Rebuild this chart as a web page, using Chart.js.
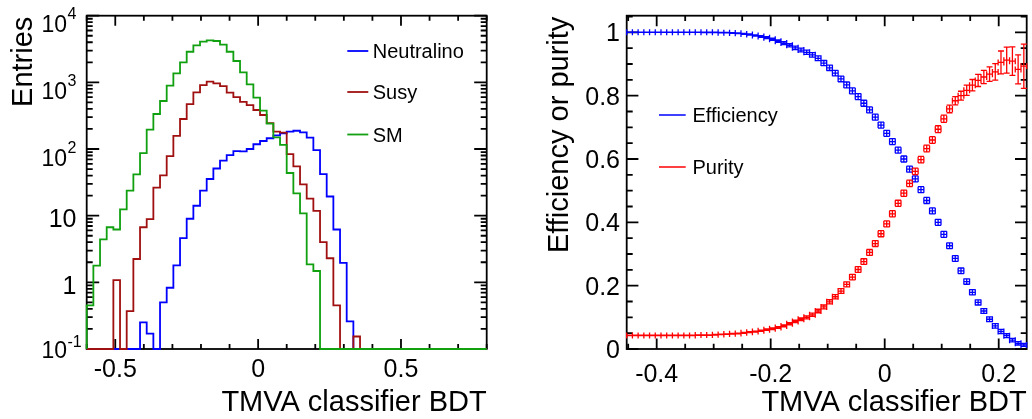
<!DOCTYPE html>
<html>
<head>
<meta charset="utf-8">
<script src="https://cdn.jsdelivr.net/npm/chart.js@4.4.1/dist/chart.umd.min.js"></script>
<style>
  body { margin: 0; background: #fff; }
  #wrap { position: relative; width: 1032px; height: 419px; }
  canvas { position: absolute; top: 0; }
</style>
</head>
<body>
<div id="wrap">
  <canvas id="hist" width="516" height="419" style="left:0"></canvas>
  <canvas id="effpur" width="516" height="419" style="left:516px"></canvas>
</div>
<script>
// BDT output histograms, 60 bins between histRange[0] and histRange[1]
const histRange = [-0.6, 0.8];
const neutralino = [
  0, 0, 0, 0, 0, 0, 0, 0, 0.25, 0.17,
  0, 0.5, 0.83, 1.8, 4.6, 9.0, 14.1, 23.7, 35.5, 51,
  67, 81, 93, 92, 100, 118, 132, 145, 160, 172,
  183, 188, 178, 148, 96, 42, 19.4, 6.2, 1.96, 0.26,
  0, 0, 0, 0, 0, 0, 0, 0, 0, 0,
  0, 0, 0, 0, 0, 0, 0, 0, 0, 0
];
const susy = [
  0, 0, 0, 0, 1.08, 0, 0.37, 2.24, 6.7, 8.9,
  26.3, 40.3, 78.5, 157, 282, 473, 708, 912, 1023, 966,
  881, 700, 600, 510, 455, 385, 324, 244, 182, 176,
  84, 55, 29.5, 18, 11.8, 4.0, 2.3, 0.45, 0, 0,
  0.154, 0, 0, 0, 0, 0, 0, 0, 0, 0,
  0, 0, 0, 0, 0, 0, 0, 0, 0, 0
];
const sm = [
  0.45, 1.78, 4.4, 6.7, 6.2, 12.4, 23.7, 41.7, 87, 195,
  335, 525, 891, 1365, 2000, 2880, 3590, 4070, 4270, 4170,
  3670, 2880, 2090, 1413, 933, 589, 376, 240, 150, 115,
  43.7, 21.6, 10.8, 1.86, 1.48, 0, 0, 0, 0, 0,
  0, 0, 0, 0, 0, 0, 0, 0, 0, 0,
  0, 0, 0, 0, 0, 0, 0, 0, 0, 0
];
const histLabels = ['Neutralino', 'Susy', 'SM'];
const histYRange = [0.1, 10000];
const histXTicks = [-0.5, 0, 0.5];
const histXTickLabels = ['-0.5', '0', '0.5'];
const histYTicks = [0.1, 1, 10, 100, 1000, 10000];
const histYTickLabels = ['10^-1', '1', '10', '10^2', '10^3', '10^4'];

// efficiency and purity versus cut value, 70 bins between cutRange[0] and cutRange[1]
const cutRange = [-0.4526, 0.2491];
const efficiency = [
  1, 1, 1, 1, 1, 1, 1, 1, 1, 1,
  1, 1, 1, 1, 1, 1, 0.999, 0.999, 0.998, 0.997,
  0.995, 0.993, 0.990, 0.987, 0.983, 0.978, 0.972, 0.966, 0.959, 0.951,
  0.944, 0.937, 0.929, 0.918, 0.903, 0.888, 0.871, 0.853, 0.834, 0.815,
  0.797, 0.776, 0.755, 0.732, 0.707, 0.681, 0.655, 0.628, 0.600, 0.568,
  0.537, 0.503, 0.469, 0.436, 0.400, 0.362, 0.326, 0.286, 0.247, 0.213,
  0.179, 0.147, 0.120, 0.094, 0.073, 0.055, 0.042, 0.028, 0.018, 0.013
];
const efficiencyErr = [
  0.0003, 0.0003, 0.0003, 0.0003, 0.0003, 0.0003, 0.0003, 0.0003, 0.0003, 0.0003,
  0.0003, 0.0004, 0.0004, 0.0005, 0.0005, 0.0006, 0.0007, 0.0008, 0.001, 0.0012,
  0.0015, 0.0018, 0.0022, 0.0026, 0.003, 0.0035, 0.004, 0.0045, 0.005, 0.0055,
  0.006, 0.0065, 0.007, 0.0075, 0.008, 0.0085, 0.0088, 0.009, 0.0092, 0.0094,
  0.0095, 0.0095, 0.0095, 0.0095, 0.0095, 0.0095, 0.0095, 0.0095, 0.0095, 0.0095,
  0.0095, 0.0095, 0.0095, 0.0095, 0.0094, 0.0093, 0.0092, 0.009, 0.0088, 0.0086,
  0.0083, 0.008, 0.0077, 0.0073, 0.007, 0.0066, 0.0062, 0.0058, 0.0054, 0.005
];
const purity = [
  0.043, 0.043, 0.043, 0.043, 0.043, 0.043, 0.043, 0.043, 0.043, 0.043,
  0.043, 0.043, 0.044, 0.044, 0.044, 0.045, 0.046, 0.047, 0.048, 0.049,
  0.051, 0.053, 0.055, 0.058, 0.061, 0.064, 0.068, 0.073, 0.080, 0.087,
  0.094, 0.100, 0.108, 0.120, 0.133, 0.149, 0.165, 0.183, 0.204, 0.227,
  0.251, 0.276, 0.305, 0.333, 0.364, 0.395, 0.427, 0.460, 0.492, 0.523,
  0.561, 0.598, 0.633, 0.660, 0.694, 0.727, 0.758, 0.784, 0.800, 0.817,
  0.833, 0.848, 0.859, 0.868, 0.875, 0.905, 0.912, 0.909, 0.883, 0.893
];
const purityErr = [
  0.0006, 0.0006, 0.0006, 0.0006, 0.0006, 0.0006, 0.0006, 0.0006, 0.0006, 0.0006,
  0.0006, 0.0006, 0.0007, 0.0007, 0.0008, 0.0008, 0.0009, 0.001, 0.0011, 0.0012,
  0.0013, 0.0015, 0.0017, 0.0019, 0.0021, 0.0024, 0.0027, 0.003, 0.0034, 0.0038,
  0.0042, 0.0046, 0.005, 0.0055, 0.006, 0.0065, 0.007, 0.0075, 0.008, 0.0085,
  0.009, 0.009, 0.0092, 0.0094, 0.0095, 0.0096, 0.0097, 0.0098, 0.0099, 0.01,
  0.0102, 0.0104, 0.0106, 0.0108, 0.011, 0.0115, 0.012, 0.013, 0.014, 0.016,
  0.018, 0.019, 0.021, 0.023, 0.026, 0.036, 0.041, 0.045, 0.046, 0.070
];
const cutLabels = ['Efficiency', 'Purity'];
const cutYRange = [0, 1.0525];
const cutXTicks = [-0.4, -0.2, 0, 0.2];
const cutXTickLabels = ['-0.4', '-0.2', '0', '0.2'];
const cutYTicks = [0, 0.2, 0.4, 0.6, 0.8, 1];
const cutYTickLabels = ['0', '0.2', '0.4', '0.6', '0.8', '1'];

const FACE = '"Liberation Sans", Arial, Helvetica, sans-serif';
const font = px => px + 'px ' + FACE;

// ROOT style frame: box, inward ticks on all four sides, labels and titles
const rootFrame = {
    id: 'rootFrame',
    beforeDatasetsDraw(chart, args, o) {
        const { ctx, chartArea: a, scales: { x, y } } = chart;
        ctx.save();
        ctx.strokeStyle = '#000';
        ctx.lineWidth = 1.8;
        ctx.beginPath();
        const xTick = (v, len) => {
            if (v < x.min - 1e-9 || v > x.max + 1e-9) return;
            const px = x.getPixelForValue(v);
            ctx.moveTo(px, a.bottom); ctx.lineTo(px, a.bottom - len);
            ctx.moveTo(px, a.top); ctx.lineTo(px, a.top + len);
        };
        const yTick = (v, len) => {
            if (v < y.min - 1e-9 || v > y.max + 1e-9) return;
            const py = y.getPixelForValue(v);
            ctx.moveTo(a.left, py); ctx.lineTo(a.left + len, py);
            ctx.moveTo(a.right, py); ctx.lineTo(a.right - len, py);
        };
        o.xMinor.forEach(v => xTick(v, o.xLen[1]));
        o.xMajor.forEach(v => xTick(v, o.xLen[0]));
        o.yMinor.forEach(v => yTick(v, o.yLen[1]));
        o.yMajor.forEach(v => yTick(v, o.yLen[0]));
        ctx.stroke();
        ctx.strokeRect(a.left, a.top, a.right - a.left, a.bottom - a.top);

        ctx.fillStyle = '#000';
        ctx.textBaseline = 'alphabetic';
        ctx.font = font(25);
        ctx.textAlign = 'center';
        o.xMajor.forEach((v, i) => ctx.fillText(o.xLabels[i], x.getPixelForValue(v), o.xLabelBase));

        o.yMajor.forEach((v, i) => {
            const py = y.getPixelForValue(v);
            const [base, exp] = o.yLabels[i].split('^');
            if (exp === undefined) {
                ctx.font = font(25);
                ctx.textAlign = 'right';
                ctx.fillText(base, o.yLabelRight, py + o.yLabelShift);
                return;
            }
            // power of ten with a raised exponent
            const low = v === y.min;
            ctx.font = font(23);
            ctx.textAlign = 'right';
            ctx.fillText(base, o.yBaseRight, py + (low ? 9 : 16.5));
            ctx.font = font(16);
            ctx.textAlign = 'left';
            ctx.fillText(exp, o.yBaseRight + 0.5, py + (low ? -2 : 3.5));
        });

        ctx.font = font(29);
        ctx.textAlign = 'right';
        ctx.fillText(o.xTitle, a.right, 411);
        ctx.save();
        ctx.translate(o.yTitleBase, a.top + 1);
        ctx.rotate(-Math.PI / 2);
        ctx.fillText(o.yTitle, 0, 0);
        ctx.restore();
        ctx.restore();
    }
};

// TLegend-like box without border: short line sample and label per dataset
const rootLegend = {
    id: 'rootLegend',
    afterDraw(chart, args, o) {
        const { ctx } = chart;
        ctx.save();
        ctx.font = font(20);
        ctx.textAlign = 'left';
        ctx.textBaseline = 'alphabetic';
        chart.data.datasets.forEach((ds, i) => {
            const ly = o.rows[i];
            ctx.strokeStyle = ds.borderColor;
            ctx.lineWidth = o.lineWidth;
            ctx.beginPath();
            ctx.moveTo(o.x1, ly);
            ctx.lineTo(o.x2, ly);
            ctx.stroke();
            ctx.fillStyle = '#000';
            ctx.fillText(ds.label, o.textX, ly + 7);
        });
        ctx.restore();
    }
};

// E1 style error bars: bin width horizontally, error vertically, end caps on both
const errorBars = {
    id: 'errorBars',
    afterDatasetsDraw(chart) {
        const { ctx, scales: { x, y } } = chart;
        const cap = 3;
        ctx.save();
        ctx.lineWidth = 1.3;
        chart.data.datasets.forEach(ds => {
            ctx.strokeStyle = ds.borderColor;
            ctx.beginPath();
            ds.data.forEach((p, i) => {
                const px = x.getPixelForValue(p.x);
                const x0 = x.getPixelForValue(p.x - ds.binHalfWidth);
                const x1 = x.getPixelForValue(p.x + ds.binHalfWidth);
                const py = y.getPixelForValue(p.y);
                const y0 = y.getPixelForValue(p.y - ds.errors[i]);
                const y1 = y.getPixelForValue(p.y + ds.errors[i]);
                ctx.moveTo(x0, py); ctx.lineTo(x1, py);
                ctx.moveTo(x0, py - cap); ctx.lineTo(x0, py + cap);
                ctx.moveTo(x1, py - cap); ctx.lineTo(x1, py + cap);
                ctx.moveTo(px, y0); ctx.lineTo(px, y1);
                ctx.moveTo(px - cap, y0); ctx.lineTo(px + cap, y0);
                ctx.moveTo(px - cap, y1); ctx.lineTo(px + cap, y1);
            });
            ctx.stroke();
        });
        ctx.restore();
    }
};

const nBins = neutralino.length;
const edges = [];
for (let k = 0; k <= nBins; k++) {
    edges.push(histRange[0] + k * (histRange[1] - histRange[0]) / nBins);
}

// histogram outline, empty bins sit on the lower edge of the log axis
function outline(counts) {
    const floor = histYRange[0];
    const pts = [{ x: edges[0], y: floor }];
    counts.forEach((c, k) => pts.push({ x: edges[k], y: c > 0 ? c : floor }));
    const last = counts[counts.length - 1];
    pts.push({ x: edges[nBins], y: last > 0 ? last : floor });
    pts.push({ x: edges[nBins], y: floor });
    return pts;
}

const histMinorX = [];
for (let v = -6; v <= 8; v++) histMinorX.push(v / 10);
const histMinorY = [];
[0.1, 1, 10, 100, 1000].forEach(d => {
    for (let m = 2; m <= 9; m++) histMinorY.push(d * m);
});

new Chart(document.getElementById('hist'), {
    type: 'line',
    data: {
        datasets: [
            { label: histLabels[0], data: outline(neutralino), borderColor: '#0000ff', order: 3 },
            { label: histLabels[1], data: outline(susy), borderColor: '#a01010', order: 2 },
            { label: histLabels[2], data: outline(sm), borderColor: '#10a010', order: 1 }
        ].map(ds => Object.assign(ds, { stepped: 'before', borderWidth: 1.8, pointRadius: 0, clip: false, fill: false }))
    },
    options: {
        responsive: false,
        animation: false,
        devicePixelRatio: 1,
        layout: { padding: { left: 86.7, top: 15.7, right: 29.3, bottom: 70 } },
        scales: {
            x: { type: 'linear', display: false, min: histRange[0], max: histRange[1] },
            y: { type: 'logarithmic', display: false, min: histYRange[0], max: histYRange[1] }
        },
        plugins: {
            legend: { display: false },
            tooltip: { enabled: false },
            rootFrame: {
                xMajor: histXTicks, xMinor: histMinorX, xLabels: histXTickLabels, xLen: [10, 5],
                yMajor: histYTicks, yMinor: histMinorY, yLabels: histYTickLabels, yLen: [12.5, 6],
                xLabelBase: 377, yLabelRight: 76.5, yLabelShift: 11.5, yBaseRight: 67,
                xTitle: 'TMVA classifier BDT', yTitle: 'Entries', yTitleBase: 31.5
            },
            rootLegend: { rows: [51, 92, 134.5], x1: 347.3, x2: 368.3, textX: 372.7, lineWidth: 1.8 }
        }
    },
    plugins: [rootFrame, rootLegend]
});

const nCut = efficiency.length;
const cutWidth = (cutRange[1] - cutRange[0]) / nCut;
const centers = efficiency.map((_, i) => cutRange[0] + (i + 0.5) * cutWidth);

const cutMinorX = [];
for (let v = -9; v <= 5; v++) cutMinorX.push(v / 20);
const cutMinorY = [];
for (let v = 1; v <= 21; v++) cutMinorY.push(v / 20);

new Chart(document.getElementById('effpur'), {
    type: 'scatter',
    data: {
        datasets: [
            { label: cutLabels[0], data: centers.map((c, i) => ({ x: c, y: efficiency[i] })),
              borderColor: '#0000ff', errors: efficiencyErr, binHalfWidth: cutWidth / 2 },
            { label: cutLabels[1], data: centers.map((c, i) => ({ x: c, y: purity[i] })),
              borderColor: '#ff0000', errors: purityErr, binHalfWidth: cutWidth / 2 }
        ].map(ds => Object.assign(ds, { pointRadius: 0, showLine: false }))
    },
    options: {
        responsive: false,
        animation: false,
        devicePixelRatio: 1,
        layout: { padding: { left: 110.7, top: 15.7, right: 5.3, bottom: 70 } },
        scales: {
            x: { type: 'linear', display: false, min: cutRange[0], max: cutRange[1] },
            y: { type: 'linear', display: false, min: cutYRange[0], max: cutYRange[1] }
        },
        plugins: {
            legend: { display: false },
            tooltip: { enabled: false },
            rootFrame: {
                xMajor: cutXTicks, xMinor: cutMinorX, xLabels: cutXTickLabels, xLen: [10.5, 5.3],
                yMajor: cutYTicks, yMinor: cutMinorY, yLabels: cutYTickLabels, yLen: [11.7, 6],
                xLabelBase: 382, yLabelRight: 104, yLabelShift: 9, yBaseRight: 104,
                xTitle: 'TMVA classifier BDT', yTitle: 'Efficiency or purity', yTitleBase: 52
            },
            rootLegend: { rows: [115, 167], x1: 143, x2: 169.7, textX: 176.5, lineWidth: 1.5 }
        }
    },
    plugins: [rootFrame, errorBars, rootLegend]
});
</script>
</body>
</html>
